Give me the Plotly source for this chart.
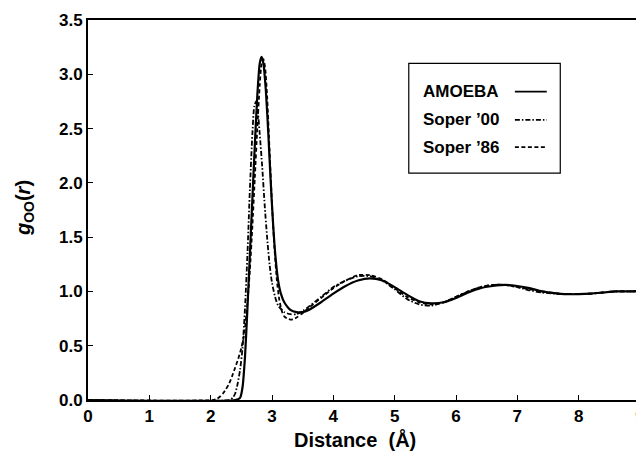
import plotly.graph_objects as go

# --- data ---
r_amoeba = [0.0, 2.40, 2.48, 2.52, 2.56, 2.60, 2.64, 2.68, 2.72, 2.76, 2.80, 2.83, 2.86, 2.90, 2.94, 2.98,
            3.02, 3.06, 3.10, 3.15, 3.20, 3.30, 3.40, 3.50, 3.60, 3.80, 4.00, 4.20, 4.40, 4.60, 4.80, 5.00,
            5.20, 5.40, 5.60, 5.80, 6.00, 6.20, 6.40, 6.60, 6.80, 7.00, 7.20, 7.40, 7.60, 7.80, 8.00, 8.20,
            8.40, 8.60, 8.80, 9.00]
g_amoeba = [0, 0, 0.02, 0.12, 0.40, 0.85, 1.35, 1.85, 2.35, 2.8, 3.1, 3.16, 3.1, 2.85, 2.45, 2.0,
            1.6, 1.3, 1.1, 0.97, 0.9, 0.83, 0.81, 0.81, 0.83, 0.9, 0.98, 1.05, 1.1, 1.12, 1.1, 1.04,
            0.97, 0.91, 0.89, 0.9, 0.94, 0.99, 1.03, 1.05, 1.06, 1.05, 1.03, 1.0, 0.985, 0.975, 0.975, 0.98,
            0.99, 1.0, 1.0, 1.005]

r_soper00 = [0.0, 2.30, 2.36, 2.40, 2.44, 2.48, 2.52, 2.56, 2.60, 2.64, 2.68, 2.71, 2.74, 2.77, 2.80, 2.84,
             2.88, 2.92, 2.96, 3.00, 3.05, 3.10, 3.20, 3.30, 3.40, 3.50, 3.60, 3.80, 4.00, 4.20, 4.40, 4.60,
             4.80, 5.00, 5.20, 5.40, 5.60, 5.80, 6.00, 6.20, 6.40, 6.60, 6.80, 7.00, 7.20, 7.40, 7.60, 7.80,
             8.00, 8.20, 8.40, 8.60, 8.80, 9.00]
g_soper00 = [0, 0, 0.02, 0.06, 0.15, 0.28, 0.48, 0.85, 1.35, 1.95, 2.45, 2.70, 2.75, 2.65, 2.45, 2.15,
             1.80, 1.50, 1.25, 1.08, 0.95, 0.87, 0.81, 0.79, 0.79, 0.82, 0.86, 0.95, 1.04, 1.10, 1.14, 1.14,
             1.10, 1.02, 0.93, 0.88, 0.87, 0.90, 0.95, 1.00, 1.04, 1.06, 1.06, 1.04, 1.01, 0.99, 0.98, 0.975,
             0.975, 0.98, 0.99, 1.0, 1.0, 1.0]

r_soper86 = [0.0, 2.05, 2.10, 2.15, 2.20, 2.25, 2.30, 2.35, 2.40, 2.45, 2.50, 2.55, 2.60, 2.64, 2.68, 2.72,
             2.76, 2.80, 2.83, 2.86, 2.89, 2.92, 2.96, 3.00, 3.04, 3.08, 3.12, 3.16, 3.20, 3.25, 3.30, 3.35,
             3.40, 3.50, 3.60, 3.80, 4.00, 4.20, 4.40, 4.60, 4.80, 5.00, 5.20, 5.40, 5.60, 5.80, 6.00, 6.20,
             6.40, 6.60, 6.80, 7.00, 7.20, 7.40, 7.60, 7.80, 8.00, 8.20, 8.40, 8.60, 8.80, 9.00]
g_soper86 = [0, 0, 0.01, 0.03, 0.06, 0.10, 0.15, 0.22, 0.30, 0.38, 0.48, 0.62, 0.90, 1.20, 1.60, 2.05,
             2.50, 2.90, 3.10, 3.14, 3.05, 2.80, 2.30, 1.80, 1.40, 1.10, 0.92, 0.82, 0.77, 0.75, 0.74, 0.745,
             0.76, 0.80, 0.85, 0.94, 1.03, 1.10, 1.15, 1.15, 1.11, 1.03, 0.95, 0.90, 0.88, 0.90, 0.95, 1.00,
             1.04, 1.06, 1.06, 1.04, 1.02, 1.00, 0.985, 0.975, 0.975, 0.98, 0.99, 1.0, 1.0, 1.0]

x_ticks = [0, 1, 2, 3, 4, 5, 6, 7, 8, 9]
y_ticks = [0.0, 0.5, 1.0, 1.5, 2.0, 2.5, 3.0, 3.5]
series_names = ["AMOEBA", "Soper \u201900", "Soper \u201986"]
x_title = "Distance  (\u00c5)"
y_title = "<i>g</i><sub>OO</sub>(<i>r</i>)"

FONT = "Liberation Sans"
DASH86 = "4px,2.5px"
DASH00 = "5px,2px,1.5px,2px"

fig = go.Figure()
fig.add_trace(go.Scatter(x=r_soper86, y=g_soper86, mode="lines", name=series_names[2],
                         line=dict(color="black", width=1.8, dash=DASH86, shape="spline", smoothing=0.6)))
fig.add_trace(go.Scatter(x=r_soper00, y=g_soper00, mode="lines", name=series_names[1],
                         line=dict(color="black", width=1.8, dash=DASH00, shape="spline", smoothing=0.6)))
fig.add_trace(go.Scatter(x=r_amoeba, y=g_amoeba, mode="lines", name=series_names[0],
                         line=dict(color="black", width=2.2, shape="spline", smoothing=0.6)))

axis_common = dict(showline=True, linecolor="black", linewidth=2, mirror=True,
                   ticks="inside", ticklen=5, tickwidth=1, tickcolor="black",
                   showgrid=False, zeroline=False, automargin=False,
                   tickfont=dict(family=FONT, size=17, color="black", weight="bold"))

fig.update_xaxes(range=[0, 9], tickvals=x_ticks, ticktext=[str(v) for v in x_ticks],
                 ticklabeloverflow="allow", **axis_common)
fig.update_yaxes(range=[0, 3.5], tickvals=y_ticks, ticktext=[f"{v:.1f}" for v in y_ticks],
                 **axis_common)

# axis titles as annotations (placed as in the original)
fig.add_annotation(x=0.484, y=-0.105, xref="paper", yref="paper", text=x_title, showarrow=False,
                   xanchor="center", yanchor="middle",
                   font=dict(family=FONT, size=20, color="black", weight="bold"))
fig.add_annotation(x=-0.116, y=0.505, xref="paper", yref="paper", text=y_title, showarrow=False,
                   xanchor="center", yanchor="middle", textangle=-90,
                   font=dict(family=FONT, size=20, color="black", weight="bold"))

# custom legend box (text left, sample right, as in the original)
fig.add_shape(type="rect", xref="x", yref="y", x0=5.23, x1=7.70, y0=2.09, y1=3.10,
              line=dict(color="black", width=1.2), fillcolor="white", layer="above")
legend_y = [2.84, 2.58, 2.33]
legend_dash = ["solid", DASH00, DASH86]
for name, yy, dsh in zip(series_names, legend_y, legend_dash):
    fig.add_annotation(x=5.43, y=yy, xref="x", yref="y", text=name, showarrow=False,
                       xanchor="left", yanchor="middle",
                       font=dict(family=FONT, size=17, color="black", weight="bold"))
    fig.add_shape(type="line", xref="x", yref="y", x0=6.96, x1=7.48, y0=yy, y1=yy,
                  line=dict(color="black", width=1.8, dash=dsh), layer="above")

# page body has an 8px margin, so the figure is sized to fit the 644x456 window
fig.update_layout(width=636, height=448, margin=dict(l=80, r=4, t=12, b=56),
                  paper_bgcolor="white", plot_bgcolor="white", showlegend=False,
                  font=dict(family=FONT, color="black"))

fig.write_html("out.html")
